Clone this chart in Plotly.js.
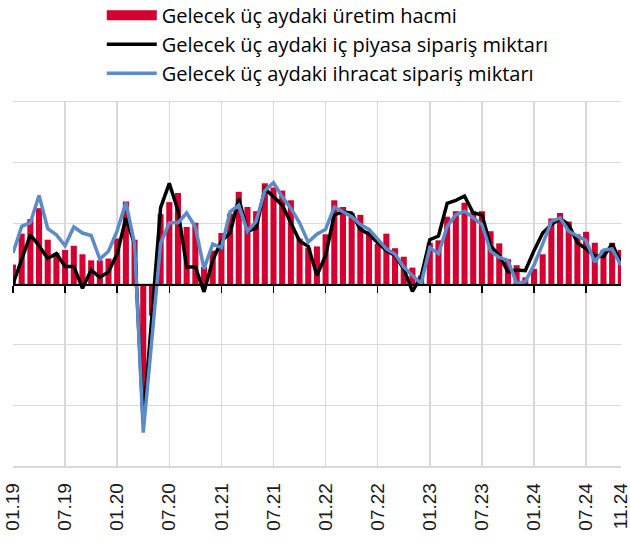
<!DOCTYPE html>
<html><head><meta charset="utf-8">
<script src="https://cdn.plot.ly/plotly-3.0.1.min.js"></script>
<style>html,body{margin:0;padding:0;background:#fff}#chart{width:630px;height:544px}</style>
</head><body><div id="chart"></div>
<script>
// Monthly series, 01.2019 - 11.2024
const production = [3.2,8.3,10.7,12.5,7.3,5.1,5.6,6.3,4.9,3.9,3.9,4.2,
  7.5,13.6,7.3,-20,-5.2,11.5,13.5,15.0,9.4,10.1,2.8,5.5,
  8.4,11.6,15.2,12.7,12.0,16.6,15.9,15.4,13.8,7.5,6.0,6.2,
  8.2,13.8,12.7,11.7,11.4,8.7,6.6,8.3,5.9,4.5,2.7,1.4,
  6.8,7.2,11.1,12.0,13.4,12.0,12.0,8.7,6.7,4.1,3.1,1.1,
  2.5,4.9,10.8,11.7,10.3,8.2,8.6,6.8,5.6,6.8,5.6];
const domestic = [0,4.2,8.1,6.3,4.2,5.0,2.9,2.9,-0.7,2.3,1.1,2.0,
  5.0,10.9,6.6,-23,-5,12.6,16.6,12.1,2.8,2.8,-1.3,3.9,
  7.1,8.4,14.1,8.7,9.2,15.7,14.4,13.0,10.1,7.1,6.2,1.4,
  4.7,11.4,11.9,11.7,9.0,8.2,6.8,5.5,4.7,2.5,-1.2,1.2,
  7.3,7.9,13.3,13.8,14.5,11.7,11.4,6.3,4.7,2.0,2.3,2.2,
  5.5,8.4,9.8,10.8,9.8,6.8,5.8,4.7,4.5,6.6,3.6];
const exportOrders = [5.1,9.5,10.1,14.6,9.1,8.1,6.3,9.4,8.4,8.0,4.1,5.4,
  8.8,13.4,6.6,-24.5,-9,6.7,10.1,10.1,11.7,9.4,2.5,6.6,
  6.0,11.9,13.0,8.7,10.3,15.4,16.7,14.4,12.5,10.1,6.9,8.2,
  9.0,12.7,11.9,11.1,9.8,9.0,7.4,5.8,4.9,2.8,1.4,0.1,
  6.0,5.0,9.5,11.4,12.0,10.9,9.8,5.4,4.4,3.9,0.1,0.4,
  3.1,6.6,10.3,10.9,8.7,7.9,7.2,3.6,5.6,5.8,3.1];
const tickLabels = ['01.19','07.19','01.20','07.20','01.21','07.21','01.22','07.22','01.23','07.23','01.24','07.24','11.24'];
const tickPositions = [0,6,12,18,24,30,36,42,48,54,60,66,70];
const gridPositions = tickPositions.slice(0, 12);
const seriesNames = ['Gelecek üç aydaki üretim hacmi','Gelecek üç aydaki iç piyasa sipariş miktarı','Gelecek üç aydaki ihracat sipariş miktarı'];
const colors = ['#d5002f','#000000','#5b8bc8'];

const x = production.map((_, i) => i);
const xRange = [0, 70.02];

const traces = [
  {type:'bar', x:x, y:production, marker:{color:colors[0]}, showlegend:false, name:seriesNames[0], hoverinfo:'skip'},
  {type:'scatter', mode:'lines', x:[null], y:[null], name:seriesNames[0], line:{color:colors[0], width:17}, xaxis:'x2'},
  {type:'scatter', mode:'lines', x:x, y:domestic, name:seriesNames[1], line:{color:colors[1], width:3.5}, xaxis:'x2'},
  {type:'scatter', mode:'lines', x:x, y:exportOrders, name:seriesNames[2], line:{color:colors[2], width:3.5}, xaxis:'x2'}
];

const layout = {
  width:630, height:544,
  margin:{l:13, r:9, t:102, b:78, autoexpand:false},
  paper_bgcolor:'#fff', plot_bgcolor:'#fff',
  bargap:0.3,
  showlegend:true,
  legend:{x:0.146, y:1.292, xanchor:'left', yanchor:'top',
    orientation:'v', itemwidth:50, tracegroupgap:0, bgcolor:'rgba(0,0,0,0)',
    font:{family:'Open Sans, sans-serif', size:20, color:'#000'}},
  xaxis:{range:xRange, tickvals:tickPositions, ticktext:tickLabels, tickangle:-90,
    showgrid:false, zeroline:false, showline:true, mirror:true, linecolor:'#d9d9d9', linewidth:1.5,
    ticks:'', ticklabelstandoff:8, ticklabeloverflow:'allow',
    tickfont:{family:'Liberation Sans, Arial, sans-serif', size:19, color:'#1a1a1a'}},
  xaxis2:{range:xRange, overlaying:'x', anchor:'free', position:0.5, side:'bottom',
    tickvals:gridPositions, showticklabels:false, showgrid:true, gridcolor:'#d9d9d9', gridwidth:1.5,
    showline:true, linecolor:'#000', linewidth:1.5, ticks:'outside', ticklen:7, tickwidth:1.5, tickcolor:'#000', zeroline:false},
  yaxis:{range:[-30,30], dtick:10, showticklabels:false, showgrid:true, gridcolor:'#d9d9d9', gridwidth:1.5,
    zeroline:false, showline:false, ticks:''}
};

Plotly.newPlot('chart', traces, layout, {displayModeBar:false, staticPlot:true});
</script></body></html>
